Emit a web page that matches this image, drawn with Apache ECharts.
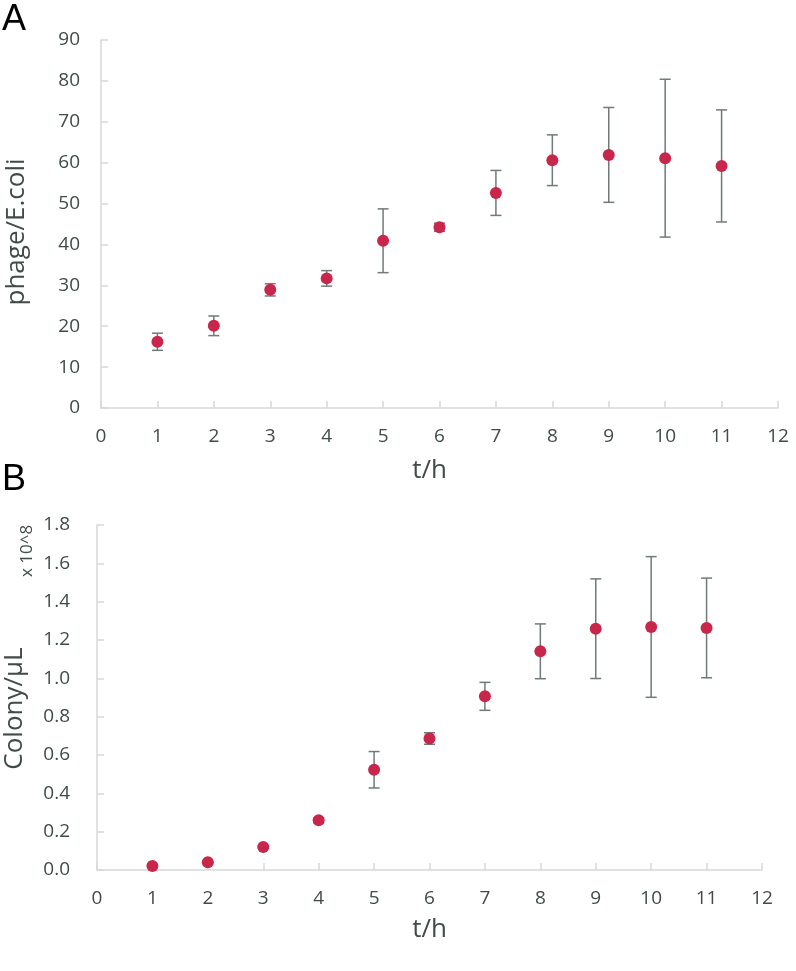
<!DOCTYPE html>
<html><head><meta charset="utf-8">
<script src="https://cdn.jsdelivr.net/npm/echarts@6/dist/echarts.min.js"></script>
<style>html,body{margin:0;padding:0;background:#fff}#c{width:796px;height:971px}</style>
</head><body><div id="c"></div>
<script>
const hours = [1, 2, 3, 4, 5, 6, 7, 8, 9, 10, 11];
const phageMean = [16.2, 20.1, 28.9, 31.7, 40.9, 44.2, 52.6, 60.6, 61.9, 61.1, 59.2];
const phageErr = [2.1, 2.4, 1.5, 1.9, 7.8, 1.0, 5.5, 6.2, 11.6, 19.3, 13.7];
const colonyMean = [0.021, 0.040, 0.120, 0.259, 0.523, 0.686, 0.906, 1.141, 1.259, 1.268, 1.263];
const colonyErr = [0.004, 0.004, 0.006, 0.012, 0.095, 0.030, 0.073, 0.143, 0.260, 0.367, 0.260];

const TXT = '#404b4a';
const AX = '#d6d9d9';
const ERR = '#6f7a79';
const DOT = '#c8264a';
const FONT = '"Open Sans", sans-serif';

function errItem(params, api) {
  const x = api.value(0), lo = api.value(1), hi = api.value(2);
  const top = api.coord([x, hi]), bot = api.coord([x, lo]);
  const hw = 5.5;
  const style = { stroke: ERR, lineWidth: 1.5 };
  return { type: 'group', children: [
    { type: 'line', shape: { x1: top[0], y1: top[1], x2: bot[0], y2: bot[1] }, style },
    { type: 'line', shape: { x1: top[0] - hw, y1: top[1], x2: top[0] + hw, y2: top[1] }, style },
    { type: 'line', shape: { x1: bot[0] - hw, y1: bot[1], x2: bot[0] + hw, y2: bot[1] }, style }
  ]};
}

function xAx(gi, pad, gap) {
  return {
    gridIndex: gi, type: 'value', min: 0, max: 12, interval: 1,
    name: 't/h', nameLocation: 'middle', nameGap: gap,
    nameTextStyle: { fontSize: 26, color: TXT, fontFamily: FONT, padding: pad },
    axisLine: { lineStyle: { color: AX, width: 1.5 } },
    axisTick: { inside: true, length: 7, lineStyle: { color: AX, width: 1.5 } },
    splitLine: { show: false },
    axisLabel: { fontSize: 19, color: TXT, fontFamily: FONT, margin: 19 }
  };
}
function yAx(gi, name, max, interval, fmt, margin, pad, gap) {
  return {
    gridIndex: gi, type: 'value', min: 0, max: max, interval: interval,
    name: name, nameLocation: 'middle', nameGap: gap,
    nameTextStyle: { fontSize: 26, color: TXT, fontFamily: FONT, padding: pad },
    axisLine: { show: true, lineStyle: { color: AX, width: 1.5 } },
    axisTick: { show: true, inside: true, length: 7, lineStyle: { color: AX, width: 1.5 } },
    splitLine: { show: false },
    axisLabel: { fontSize: 19, color: TXT, fontFamily: FONT, margin: margin, formatter: fmt }
  };
}

const chart = echarts.init(document.getElementById('c'), null, { renderer: 'canvas' });
chart.setOption({
  animation: false,
  backgroundColor: '#fff',
  grid: [
    { left: 101, top: 40, width: 677, height: 368, containLabel: false, outerBoundsMode: 'none' },
    { left: 97, top: 525, width: 665, height: 345, containLabel: false, outerBoundsMode: 'none' }
  ],
  xAxis: [xAx(0, [0, 20, 0, 0], 50), xAx(1, [0, 0, 0, 0], 47)],
  yAxis: [
    yAx(0, 'phage/E.coli', 90, 10, v => String(v), 21, [0, 16, 0, 0], 71),
    yAx(1, 'Colony/μL', 1.8, 0.2, v => v.toFixed(1), 27, [0, 22, 0, 0], 69)
  ],
  graphic: [
    { type: 'text', left: 2, top: 2, style: { text: 'A', fontSize: 36, fill: '#000', fontFamily: '"Liberation Sans", Arial, sans-serif' } },
    { type: 'text', left: 2, top: 462, style: { text: 'B', fontSize: 36, fill: '#000', fontFamily: '"Liberation Sans", Arial, sans-serif' } },
    { type: 'text', x: 27, y: 551, rotation: Math.PI / 2, style: { text: 'x 10^8', fontSize: 17, fill: TXT, fontFamily: FONT, align: 'center', verticalAlign: 'middle' } }
  ],
  series: [
    { type: 'custom', xAxisIndex: 0, yAxisIndex: 0, renderItem: errItem, z: 1,
      data: hours.map((h, i) => [h, phageMean[i] - phageErr[i], phageMean[i] + phageErr[i]]) },
    { type: 'scatter', xAxisIndex: 0, yAxisIndex: 0, symbolSize: 12, z: 2,
      itemStyle: { color: DOT, opacity: 1 },
      data: hours.map((h, i) => [h, phageMean[i]]) },
    { type: 'custom', xAxisIndex: 1, yAxisIndex: 1, renderItem: errItem, z: 1,
      data: hours.map((h, i) => [h, colonyMean[i] - colonyErr[i], colonyMean[i] + colonyErr[i]]) },
    { type: 'scatter', xAxisIndex: 1, yAxisIndex: 1, symbolSize: 12, z: 2,
      itemStyle: { color: DOT, opacity: 1 },
      data: hours.map((h, i) => [h, colonyMean[i]]) }
  ]
});
</script>
</body></html>
